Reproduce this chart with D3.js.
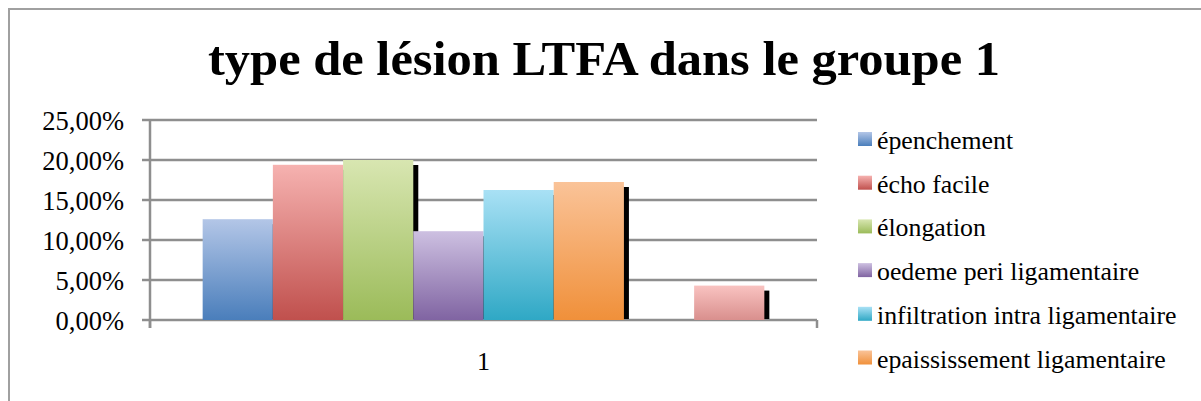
<!DOCTYPE html>
<html lang="fr">
<head>
  <meta charset="UTF-8">
  <title>type de lésion LTFA dans le groupe 1</title>
  <script src="https://d3js.org/d3.v7.min.js"></script>
  <style>
    body { margin: 0; background: #fff; }
    svg { display: block; }
  </style>
</head>
<body>

  <script>
    ((window, document) => {
      "use strict";

      /**
       * -----------------------------------------------------------------------
       *  Data
       * -----------------------------------------------------------------------
       */

      const title = "type de lésion LTFA dans le groupe 1";
      const categories = ["1"];
      const seriesNames = [
        "épenchement",
        "écho facile",
        "élongation",
        "oedeme peri ligamentaire",
        "infiltration intra ligamentaire",
        "epaississement ligamentaire",
        "série 7",
        "série 8",
      ];
      // one value per series (single category "1")
      const seriesValues = [0.126, 0.194, 0.200, 0.111, 0.1625, 0.1725, 0, 0.043];
      const yTicks = [0, 0.05, 0.10, 0.15, 0.20, 0.25];
      // gradient top / bottom
      const seriesColors = [
        ["#b3c6e7", "#4a7ebb"],
        ["#f6b2b0", "#c0504d"],
        ["#d8e6b1", "#9bbb59"],
        ["#cdc0e1", "#8064a2"],
        ["#a9e1f5", "#2fa8c5"],
        ["#fac398", "#f0903a"],
        ["#8aa6cf", "#2c4d75"],
        ["#f9c3c1", "#d98f8d"],
      ];


      /**
       * -----------------------------------------------------------------------
       *  Render
       * -----------------------------------------------------------------------
       */

      const W = 1201, H = 401;
      const plot = { left: 150, right: 817, top: 120, bottom: 320 };

      const svg = d3.select("body").append("svg")
        .attr("width", W).attr("height", H);

      svg.append("rect").attr("width", W).attr("height", H).attr("fill", "#fff");

      // chart frame
      svg.append("rect")
        .attr("x", 9).attr("y", 9)
        .attr("width", W + 20).attr("height", H + 20)
        .attr("fill", "none").attr("stroke", "#a0a0a0").attr("stroke-width", 2);

      // gradients
      const defs = svg.append("defs");
      seriesColors.forEach((c, i) => {
        const g = defs.append("linearGradient")
          .attr("id", "grad" + i)
          .attr("x1", 0).attr("y1", 0).attr("x2", 0).attr("y2", 1);
        g.append("stop").attr("offset", "0%").attr("stop-color", c[0]);
        g.append("stop").attr("offset", "100%").attr("stop-color", c[1]);
      });

      // title
      svg.append("text")
        .attr("x", 604).attr("y", 75)
        .attr("text-anchor", "middle")
        .attr("textLength", 792).attr("lengthAdjust", "spacingAndGlyphs")
        .style("font-family", "'Liberation Serif', serif")
        .style("font-weight", "bold")
        .style("font-size", "48px")
        .attr("fill", "#000")
        .text(title);

      // scales
      const x0 = d3.scaleBand().domain(categories).range([plot.left, plot.right]);
      const x1 = d3.scaleBand().domain(seriesNames)
        .range([0, x0.bandwidth()]).paddingInner(0).paddingOuter(0.75);
      const y = d3.scaleLinear().domain([0, 0.25]).range([plot.bottom, plot.top]);

      const fmt = d3.formatLocale({ decimal: ",", thousands: " ", grouping: [3], currency: ["", "€"] })
        .format(".2%");

      // gridlines
      svg.append("g").selectAll("line")
        .data(yTicks).enter().append("line")
          .attr("x1", plot.left - 8).attr("x2", plot.right)
          .attr("y1", d => y(d)).attr("y2", d => y(d))
          .attr("stroke", "#8e8e8e").attr("stroke-width", 2.5);

      // y axis
      const yAxis = svg.append("g")
        .attr("transform", `translate(${plot.left},0)`)
        .call(d3.axisLeft(y).tickValues(yTicks).tickFormat(fmt).tickSize(0).tickPadding(26));
      yAxis.select(".domain").remove();
      yAxis.selectAll("text")
        .attr("dy", "0.37em")
        .style("font-family", "'Liberation Serif', serif")
        .style("font-size", "26.5px")
        .attr("fill", "#000");

      svg.append("line")
        .attr("x1", plot.left).attr("x2", plot.left)
        .attr("y1", plot.top).attr("y2", plot.bottom + 8)
        .attr("stroke", "#8e8e8e").attr("stroke-width", 2.5);

      // x axis ticks (category boundaries) and label
      svg.append("g").selectAll("line")
        .data([plot.left, plot.right]).enter().append("line")
          .attr("x1", d => d).attr("x2", d => d)
          .attr("y1", plot.bottom).attr("y2", plot.bottom + 8)
          .attr("stroke", "#8e8e8e").attr("stroke-width", 2.5);

      svg.append("g").selectAll("text")
        .data(categories).enter().append("text")
          .attr("x", d => x0(d) + x0.bandwidth() / 2)
          .attr("y", 370)
          .attr("text-anchor", "middle")
          .style("font-family", "'Liberation Serif', serif")
          .style("font-size", "26px")
          .attr("fill", "#000")
          .text(d => d);

      // bars with shadow, drawn series by series
      const bars = svg.append("g");
      categories.forEach(cat => {
        seriesNames.forEach((name, i) => {
          const v = seriesValues[i];
          if (!v) return;
          const bx = x0(cat) + x1(name), bw = x1.bandwidth();
          const by = y(v), bh = y(0) - y(v);
          bars.append("rect")
            .attr("x", bx + 5).attr("y", by + 5)
            .attr("width", bw).attr("height", Math.max(0, bh - 6))
            .attr("fill", "#000");
          bars.append("rect")
            .attr("x", bx).attr("y", by)
            .attr("width", bw).attr("height", bh)
            .attr("fill", `url(#grad${i})`);
        });
      });

      // legend (only the entries that fit in the frame are visible)
      const legend = svg.append("g");
      seriesNames.forEach((name, i) => {
        const cy = 139 + i * 43.7;
        if (cy > 380) return;
        legend.append("rect")
          .attr("x", 858).attr("y", cy - 7)
          .attr("width", 14).attr("height", 14)
          .attr("fill", `url(#grad${i})`);
        legend.append("text")
          .attr("x", 877).attr("y", cy + 10)
          .style("font-family", "'Liberation Serif', serif")
          .style("font-size", "25.8px")
          .attr("fill", "#000")
          .text(name);
      });

    })(window, document);
  </script>

</body>
</html>
